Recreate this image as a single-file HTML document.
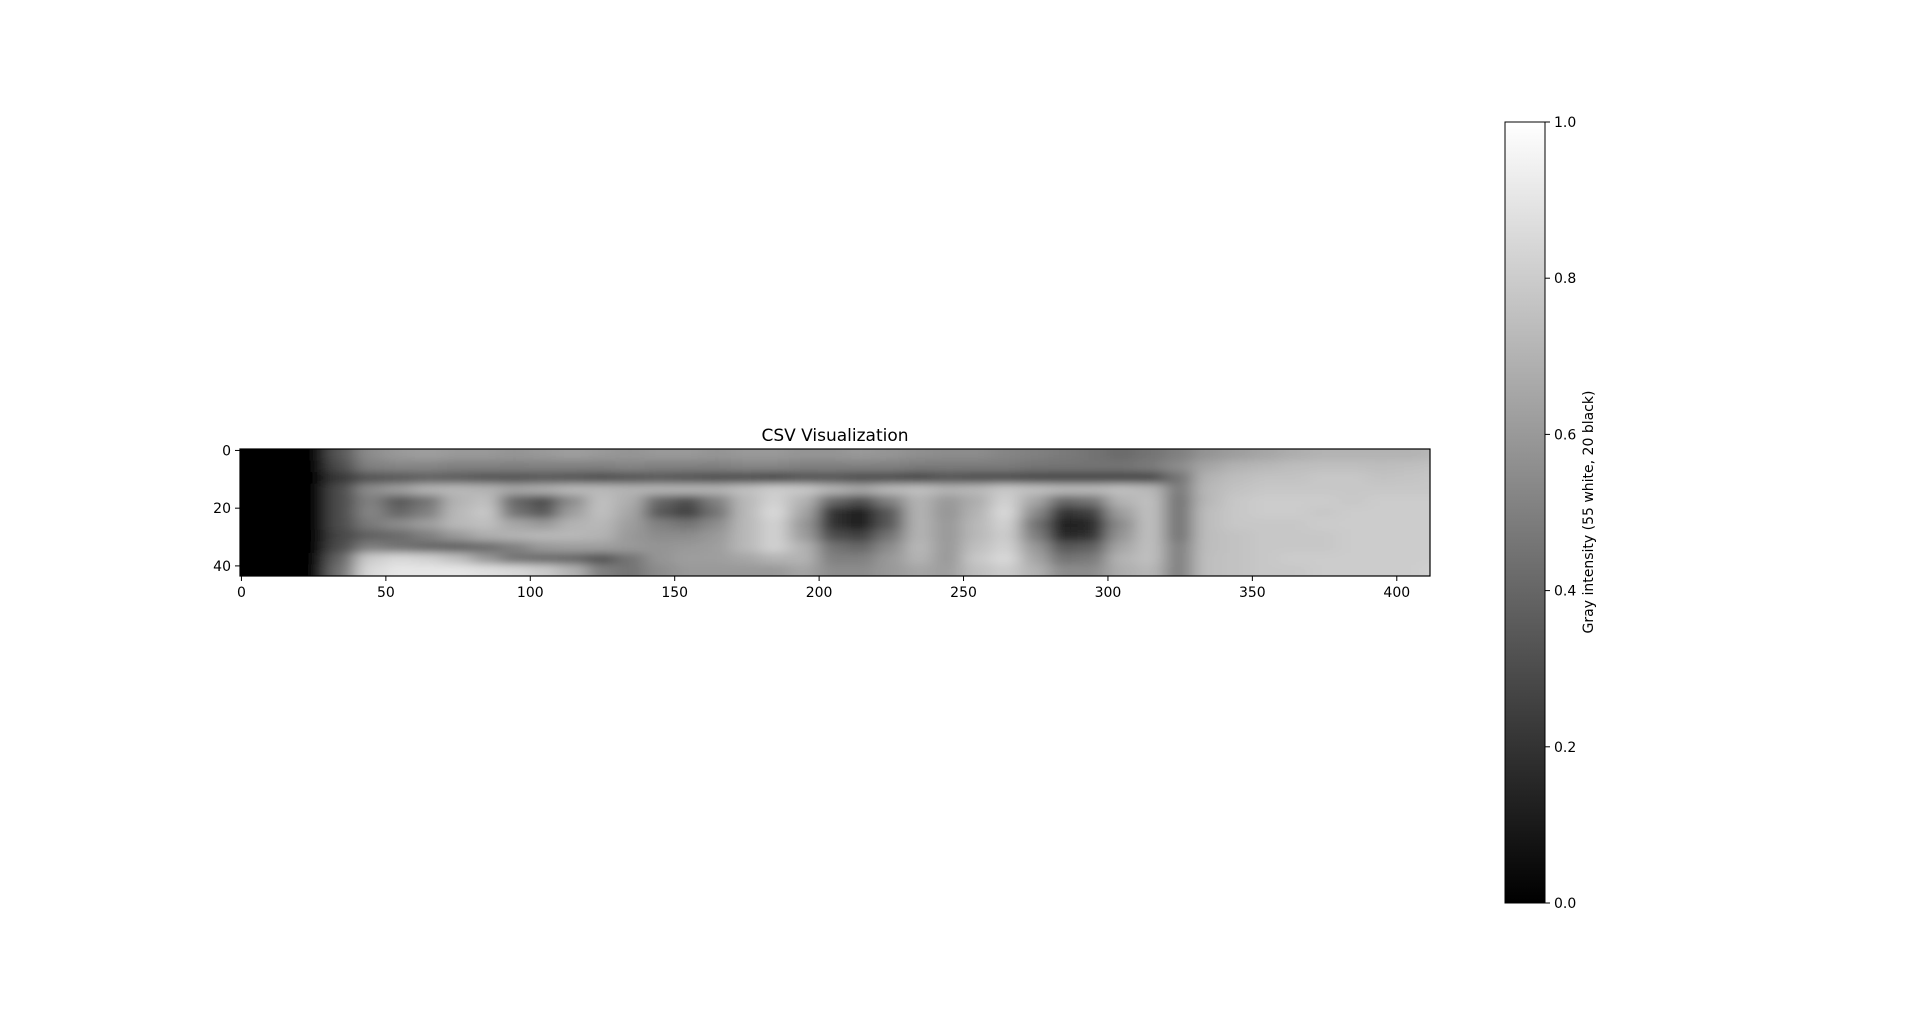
<!DOCTYPE html>
<html><head><meta charset="utf-8"><title>CSV Visualization</title>
<style>
html,body{margin:0;padding:0;background:#fff;}
svg{display:block;font-family:"DejaVu Sans","Liberation Sans",sans-serif;}
</style></head>
<body>
<svg id="fig" width="1920" height="1015" viewBox="0 0 1920 1015" xmlns="http://www.w3.org/2000/svg">
<defs>
<filter id="blur" x="-5%" y="-20%" width="110%" height="140%"><feGaussianBlur stdDeviation="9 4"/></filter>
<clipPath id="axclip"><rect x="240" y="449" width="1190" height="127"/></clipPath>
<linearGradient id="cbgrad" x1="0" y1="1" x2="0" y2="0"><stop offset="0" stop-color="#000"/><stop offset="1" stop-color="#fff"/></linearGradient>
</defs>
<text x="835" y="441" font-size="17" text-anchor="middle">CSV Visualization</text>
<g id="cells" clip-path="url(#axclip)"><g id="cellsInner" filter="url(#blur)"></g></g>
<rect x="240" y="449" width="1190" height="127" fill="none" stroke="#000" stroke-width="1.2"/>
<g id="xaxis"></g>
<g id="yaxis"></g>
<rect x="1505" y="122" width="40" height="781" fill="url(#cbgrad)" stroke="#000" stroke-width="1"/>
<g id="cbaxis"></g>
<text x="0" y="0" font-size="14" text-anchor="middle" transform="translate(1593,512) rotate(-90)">Gray intensity (55 white, 20 black)</text>
</svg>
<script>
const nRows = 44, nCols = 412;
const bandCols = 10, bandRows = 4;
const xTicks = [0,50,100,150,200,250,300,350,400];
const yTicks = [0,20,40];
const cbTicks = [0.0,0.2,0.4,0.6,0.8,1.0];
const cbTickLabels = ["0.0","0.2","0.4","0.6","0.8","1.0"];
const row0 = [0,0,0.02,0.35,0.55,0.6,0.62,0.6,0.6,0.58,0.6,0.62,0.6,0.58,0.6,0.6,0.58,0.6,0.6,0.58,0.58,0.6,0.58,0.56,0.55,0.55,0.52,0.5,0.48,0.45,0.42,0.45,0.5,0.58,0.62,0.65,0.68,0.7,0.7,0.7,0.7,0.72];
const row1 = [0,0,0.02,0.3,0.5,0.52,0.52,0.5,0.5,0.5,0.5,0.5,0.5,0.52,0.5,0.5,0.5,0.52,0.52,0.5,0.5,0.5,0.5,0.48,0.48,0.48,0.48,0.46,0.45,0.45,0.45,0.48,0.55,0.65,0.7,0.72,0.74,0.75,0.75,0.74,0.75,0.76];
const row2 = [0,0,0.02,0.22,0.32,0.35,0.38,0.36,0.33,0.32,0.35,0.33,0.3,0.32,0.35,0.32,0.3,0.3,0.28,0.32,0.33,0.3,0.3,0.28,0.32,0.3,0.3,0.28,0.28,0.28,0.28,0.28,0.45,0.7,0.74,0.76,0.76,0.78,0.78,0.76,0.77,0.78];
const row3 = [0,0,0.02,0.3,0.55,0.62,0.7,0.72,0.7,0.65,0.68,0.72,0.72,0.7,0.7,0.7,0.7,0.75,0.8,0.78,0.7,0.65,0.72,0.75,0.7,0.72,0.78,0.75,0.72,0.72,0.75,0.72,0.48,0.72,0.76,0.78,0.78,0.78,0.78,0.78,0.78,0.78];
const row4 = [0,0,0.02,0.3,0.5,0.35,0.45,0.7,0.75,0.4,0.3,0.55,0.75,0.68,0.4,0.3,0.5,0.72,0.82,0.7,0.4,0.3,0.5,0.7,0.6,0.68,0.82,0.65,0.4,0.45,0.7,0.75,0.45,0.72,0.78,0.8,0.8,0.8,0.78,0.8,0.8,0.8];
const row5 = [0,0,0.02,0.3,0.52,0.4,0.5,0.72,0.78,0.45,0.35,0.62,0.75,0.65,0.35,0.25,0.45,0.72,0.85,0.65,0.2,0.12,0.35,0.7,0.58,0.7,0.85,0.55,0.2,0.25,0.62,0.75,0.45,0.74,0.78,0.8,0.8,0.78,0.8,0.8,0.8,0.8];
const row6 = [0,0,0.02,0.3,0.48,0.55,0.62,0.72,0.75,0.65,0.6,0.7,0.72,0.62,0.5,0.45,0.55,0.72,0.82,0.6,0.2,0.1,0.35,0.7,0.6,0.72,0.82,0.45,0.12,0.15,0.55,0.75,0.45,0.74,0.78,0.78,0.78,0.8,0.8,0.8,0.8,0.8];
const row7 = [0,0,0.02,0.28,0.38,0.42,0.5,0.6,0.68,0.7,0.72,0.72,0.7,0.6,0.55,0.55,0.6,0.72,0.82,0.62,0.3,0.25,0.45,0.7,0.6,0.72,0.8,0.5,0.15,0.2,0.58,0.75,0.45,0.74,0.76,0.78,0.78,0.78,0.8,0.8,0.8,0.8];
const row8 = [0,0,0.02,0.3,0.5,0.45,0.4,0.38,0.42,0.5,0.6,0.62,0.62,0.6,0.58,0.6,0.62,0.72,0.82,0.7,0.45,0.4,0.55,0.72,0.6,0.75,0.82,0.6,0.35,0.38,0.65,0.75,0.5,0.74,0.76,0.78,0.78,0.78,0.8,0.8,0.8,0.8];
const row9 = [0,0,0.02,0.4,0.8,0.85,0.82,0.75,0.6,0.45,0.42,0.4,0.32,0.45,0.58,0.62,0.62,0.65,0.7,0.7,0.5,0.5,0.6,0.7,0.6,0.78,0.85,0.65,0.45,0.48,0.7,0.75,0.5,0.75,0.76,0.78,0.8,0.8,0.8,0.8,0.8,0.8];
const row10 = [0,0,0.02,0.45,0.85,0.9,0.9,0.9,0.88,0.85,0.8,0.7,0.5,0.45,0.55,0.6,0.6,0.6,0.6,0.65,0.55,0.55,0.6,0.65,0.62,0.75,0.8,0.7,0.55,0.55,0.68,0.72,0.5,0.75,0.76,0.78,0.78,0.8,0.8,0.8,0.8,0.82];
const grid = [row0,row1,row2,row3,row4,row5,row6,row7,row8,row9,row10];

const AX = {x0:240, x1:1430, y0:449, y1:576};
const CB = {y0:122, y1:903, x1:1545};
function xScale(c){ return AX.x0 + (c + 0.5) * (AX.x1 - AX.x0) / nCols; }
function yScale(r){ return AX.y0 + (r + 0.5) * (AX.y1 - AX.y0) / nRows; }
function cbScale(v){ return CB.y1 - v * (CB.y1 - CB.y0); }
function gray(v){ const g = Math.round(Math.max(0,Math.min(1,v))*255); return `rgb(${g},${g},${g})`; }

const NS = "http://www.w3.org/2000/svg";
const cellsG = document.getElementById('cellsInner');
const PAD = 30;
grid.forEach((rowVals, ri) => {
  rowVals.forEach((v, ci) => {
    const c0 = ci*bandCols, c1 = Math.min(nCols, (ci+1)*bandCols);
    const r0 = ri*bandRows, r1 = Math.min(nRows, (ri+1)*bandRows);
    let x = xScale(c0 - 0.5), x2 = xScale(c1 - 0.5);
    let y = yScale(r0 - 0.5), y2 = yScale(r1 - 0.5);
    if (ci === 0) x -= PAD;
    if (ci === rowVals.length-1) x2 += PAD;
    if (ri === 0) y -= PAD;
    if (ri === grid.length-1) y2 += PAD;
    const rect = document.createElementNS(NS,'rect');
    
    
    rect.setAttribute('x', x); rect.setAttribute('y', y);
    rect.setAttribute('width', x2 - x + 0.6); rect.setAttribute('height', y2 - y + 0.6);
    rect.setAttribute('fill', gray(v));
    cellsG.appendChild(rect);
  });
});

const xa = document.getElementById('xaxis');
xTicks.forEach(t => {
  const x = xScale(t);
  const ln = document.createElementNS(NS,'line');
  
  
  ln.setAttribute('x1',x); ln.setAttribute('x2',x); ln.setAttribute('y1',AX.y1); ln.setAttribute('y2',AX.y1+5);
  ln.setAttribute('stroke','#000'); ln.setAttribute('stroke-width','1');
  xa.appendChild(ln);
  const tx = document.createElementNS(NS,'text');
  
  
  tx.setAttribute('x',x); tx.setAttribute('y',597); tx.setAttribute('font-size','14'); tx.setAttribute('text-anchor','middle');
  tx.textContent = String(t);
  xa.appendChild(tx);
});
const ya = document.getElementById('yaxis');
yTicks.forEach(t => {
  const y = yScale(t);
  const ln = document.createElementNS(NS,'line');
  
  
  ln.setAttribute('x1',AX.x0-5); ln.setAttribute('x2',AX.x0); ln.setAttribute('y1',y); ln.setAttribute('y2',y);
  ln.setAttribute('stroke','#000'); ln.setAttribute('stroke-width','1');
  ya.appendChild(ln);
  const tx = document.createElementNS(NS,'text');
  
  
  tx.setAttribute('x',231); tx.setAttribute('y',y+5); tx.setAttribute('font-size','14'); tx.setAttribute('text-anchor','end');
  tx.textContent = String(t);
  ya.appendChild(tx);
});
const cba = document.getElementById('cbaxis');
cbTicks.forEach((t,i) => {
  const y = cbScale(t);
  const ln = document.createElementNS(NS,'line');
  
  
  ln.setAttribute('x1',CB.x1); ln.setAttribute('x2',CB.x1+5); ln.setAttribute('y1',y); ln.setAttribute('y2',y);
  ln.setAttribute('stroke','#000'); ln.setAttribute('stroke-width','1');
  cba.appendChild(ln);
  const tx = document.createElementNS(NS,'text');
  
  
  tx.setAttribute('x',1554); tx.setAttribute('y',y+5); tx.setAttribute('font-size','14');
  tx.textContent = cbTickLabels[i];
  cba.appendChild(tx);
});
</script>
</body></html>
